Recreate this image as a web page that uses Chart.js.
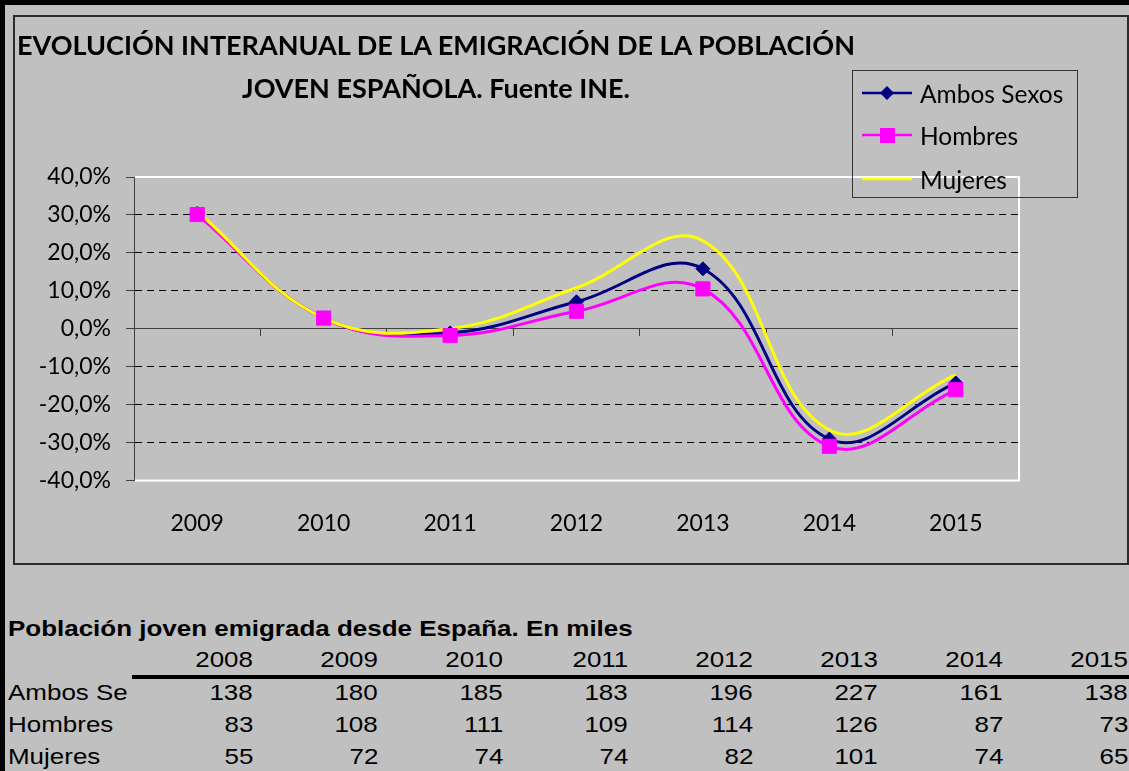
<!DOCTYPE html>
<html><head><meta charset="utf-8">
<script src="https://cdn.jsdelivr.net/npm/chart.js@4.4.0/dist/chart.umd.min.js"></script>
<style>
html,body{margin:0;padding:0;}
body{width:1129px;height:771px;background:#c0c0c0;position:relative;overflow:hidden;font-family:Lato,sans-serif;}
#bt{position:absolute;left:0;top:0;width:1129px;height:5px;background:#000;}
#bl{position:absolute;left:0;top:0;width:5px;height:771px;background:#000;}
#box{position:absolute;left:13px;top:15px;width:1116px;height:550px;border:2px solid #2b2b2b;box-sizing:border-box;}
#cv{position:absolute;left:0;top:0;}
#title{position:absolute;left:0;top:23px;width:872px;text-align:center;font:bold 27px Lato,sans-serif;line-height:43px;color:#000;white-space:nowrap;}
#legend{position:absolute;left:852px;top:70px;width:226px;height:128px;border:1px solid #333;box-sizing:border-box;}
.li{position:absolute;left:9px;height:30px;display:flex;align-items:center;font:24.5px Lato,sans-serif;color:#000;white-space:nowrap;}
.li svg{margin-right:8px;}
.tt{position:absolute;font-family:"Liberation Sans",Arial,sans-serif;font-size:22px;color:#000;white-space:nowrap;line-height:24px;}
.tt span{display:inline-block;transform:scaleX(1.18);}
.num{text-align:right;width:100px;}
.num span{transform-origin:right center;}
.lft span{transform-origin:left center;}
#rule{position:absolute;left:132px;top:675px;width:997px;height:4px;background:#000;}
</style></head>
<body>
<div id="bt"></div><div id="bl"></div>
<div id="box"></div>
<canvas id="cv" width="1129" height="600"></canvas>
<div id="title">EVOLUCIÓN INTERANUAL DE LA EMIGRACIÓN DE LA POBLACIÓN<br>JOVEN ESPAÑOLA. Fuente INE.</div>
<div id="legend"></div>
<div id="table"></div>
<div id="rule"></div>
<script>
// ---- data ----
const chartYears = ['2009','2010','2011','2012','2013','2014','2015'];
const ambosChange   = [30.4, 2.8, -1.1, 7.1, 15.8, -29.1, -14.3];
const hombresChange = [30.1, 2.8, -1.8, 4.6, 10.5, -31.0, -16.1];
const mujeresChange = [30.9, 2.8, 0.0, 10.8, 23.2, -26.7, -12.2];
const seriesNames = ['Ambos Sexos', 'Hombres', 'Mujeres'];
const yTicks = [-40, -30, -20, -10, 0, 10, 20, 30, 40];

// ---- table below ----
const tableTitle = 'Población joven emigrada desde España. En miles';
const tableYears = ['2008','2009','2010','2011','2012','2013','2014','2015'];
const tableRowNames = ['Ambos Sexos', 'Hombres', 'Mujeres'];
const ambosMiles   = [138, 180, 185, 183, 196, 227, 161, 138];
const hombresMiles = [83, 108, 111, 109, 114, 126, 87, 73];
const mujeresMiles = [55, 72, 74, 74, 82, 101, 74, 65];

const colors = ['#000080', '#ff00ff', '#ffff00'];

// legend (HTML)
const legend = document.getElementById('legend');
const legendSym = [
  '<svg width="50" height="20"><line x1="0" y1="10" x2="50" y2="10" stroke="#000080" stroke-width="2.5"/><polygon points="25,3 32,10 25,17 18,10" fill="#000080"/></svg>',
  '<svg width="50" height="20"><line x1="0" y1="10" x2="50" y2="10" stroke="#ff00ff" stroke-width="2.5"/><rect x="18" y="3" width="15" height="15" fill="#ff00ff"/></svg>',
  '<svg width="50" height="20"><line x1="0" y1="10" x2="50" y2="10" stroke="#ffff00" stroke-width="2.5"/></svg>'
];
const legendY = [22, 64, 108];
seriesNames.forEach((n, i) => {
  const d = document.createElement('div');
  d.className = 'li';
  d.style.top = (legendY[i] - 15) + 'px';
  d.innerHTML = legendSym[i] + '<span>' + n + '</span>';
  legend.appendChild(d);
});

// table (HTML)
const table = document.getElementById('table');
function addText(txt, x, yc, cls, extra) {
  const d = document.createElement('div');
  d.className = 'tt ' + (cls || '');
  const s = document.createElement('span');
  s.textContent = txt;
  d.appendChild(s);
  d.style.top = (yc - 12) + 'px';
  d.style.left = x + 'px';
  if (extra) Object.assign(d.style, extra);
  table.appendChild(d);
  return d;
}
addText(tableTitle, 8, 629, 'lft', {fontWeight: 'bold'});
const colRight = tableYears.map((_, i) => 253 + i * 125);
tableYears.forEach((y, i) => addText(y, colRight[i] - 100, 660, 'num'));
const rows = [ambosMiles, hombresMiles, mujeresMiles];
const rowY = [693, 725, 757];
tableRowNames.forEach((n, r) => {
  addText(n, 8, rowY[r], 'lft', {width: '119px', overflow: 'hidden'});
  rows[r].forEach((v, i) => addText(String(v), colRight[i] - 100, rowY[r], 'num'));
});

// chart
const framePlugin = {
  id: 'frame',
  beforeDatasetsDraw(chart) {
    const {ctx, chartArea: a} = chart;
    ctx.save();
    ctx.strokeStyle = '#ffffff';
    ctx.lineWidth = 2;
    ctx.beginPath();
    ctx.moveTo(a.left + 1, a.top);
    ctx.lineTo(a.right, a.top);
    ctx.lineTo(a.right, a.bottom);
    ctx.lineTo(a.left + 1, a.bottom);
    ctx.stroke();
    ctx.restore();
  }
};

const fmt = v => (Math.abs(v) < 1e-9 ? 0 : v).toFixed(1).replace('.', ',') + '%';
const lineBase = {pointRadius: 0, borderWidth: 3, tension: 0.4, fill: false, xAxisID: 'x', yAxisID: 'y'};

new Chart(document.getElementById('cv'), {
  type: 'line',
  data: {
    labels: chartYears,
    datasets: [
      Object.assign({label: seriesNames[0], data: ambosChange, borderColor: colors[0], order: 5}, lineBase),
      Object.assign({label: seriesNames[1], data: hombresChange, borderColor: colors[1], order: 4}, lineBase),
      Object.assign({label: seriesNames[2], data: mujeresChange, borderColor: colors[2], order: 3}, lineBase),
      {label: seriesNames[0], data: ambosChange, showLine: false, pointStyle: 'rectRot', pointRadius: 7,
        pointBackgroundColor: colors[0], pointBorderColor: colors[0], pointBorderWidth: 1, order: 2, xAxisID: 'x', yAxisID: 'y'},
      {label: seriesNames[1], data: hombresChange, showLine: false, pointStyle: 'rect', pointRadius: 10,
        pointBackgroundColor: colors[1], pointBorderColor: colors[1], pointBorderWidth: 1, order: 1, xAxisID: 'x', yAxisID: 'y'}
    ]
  },
  options: {
    responsive: false, animation: false, devicePixelRatio: 1,
    layout: {padding: {left: 0, right: 110, top: 177, bottom: 34}},
    plugins: {legend: {display: false}, tooltip: {enabled: false}, title: {display: false}},
    scales: {
      x: {
        type: 'category', position: {y: 0}, offset: true,
        grid: {offset: true, drawOnChartArea: false, drawTicks: true, tickLength: 7, color: '#404040', lineWidth: 1},
        border: {color: '#404040', width: 1},
        ticks: {display: false}
      },
      x2: {
        type: 'category', position: 'bottom', labels: chartYears, offset: true,
        grid: {display: false, drawTicks: false},
        border: {display: false},
        ticks: {padding: 29, color: '#000', font: {family: 'Lato', size: 23}, maxRotation: 0, autoSkip: false}
      },
      y: {
        min: yTicks[0], max: yTicks[yTicks.length - 1],
        afterBuildTicks: s => { s.ticks = yTicks.map(v => ({value: v})); },
        afterFit: s => { s.width = 134; },
        ticks: {callback: fmt, padding: 15, color: '#000', font: {family: 'Lato', size: 23}},
        grid: {
          color: c => (c.tick && (Math.abs(c.tick.value) < 1e-9 || Math.abs(c.tick.value) === 40)) ? 'rgba(0,0,0,0)' : '#000',
          lineWidth: 1, tickLength: 8, tickColor: '#404040', drawTicks: true
        },
        border: {color: '#404040', width: 1, dash: [7, 5]}
      }
    }
  },
  plugins: [framePlugin]
});
</script>
</body></html>
